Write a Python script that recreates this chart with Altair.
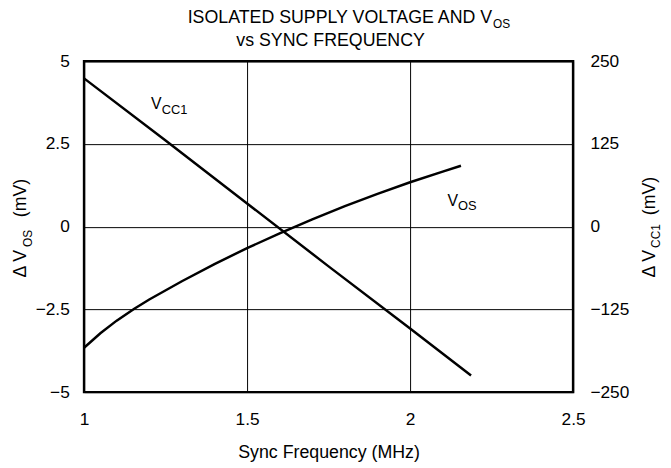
import altair as alt
import pandas as pd

# ---- data ----
freq_vcc = [1.0, 1.25, 1.5, 1.75, 2.0, 2.187]
vcc1_mv = [224, 130, 35, -60, -154, -225]          # right axis, mV

freq_vos = [1.0, 1.05, 1.1, 1.154, 1.2, 1.3, 1.4, 1.5, 1.6, 1.7, 1.8, 1.9, 2.0, 2.1, 2.156]
vos_mv = [-3.66, -3.22, -2.84, -2.48, -2.2, -1.65, -1.13, -0.65, -0.2, 0.22,
          0.62, 0.99, 1.34, 1.66, 1.84]               # left axis, mV

x_ticks = [1, 1.5, 2, 2.5]
vos_ticks = [-5, -2.5, 0, 2.5, 5]
vcc_ticks = [-250, -125, 0, 125, 250]

# curve labels (data coords on left axis)
lab_main = ["V", "V"]
lab_sub = ["CC1", "OS"]
lab_x = [1.205, 2.115]
lab_y = [3.55, 0.63]
sub_x = [1.238, 2.147]
sub_y = [3.41, 0.51]

FONT = "Liberation Sans"
FMT = ".1~f"

vos_df = pd.DataFrame({"f": freq_vos, "v": vos_mv})
vcc_df = pd.DataFrame({"f": freq_vcc, "v": vcc1_mv})
lab_df = pd.DataFrame({"f": lab_x, "v": lab_y, "t": lab_main})
sub_df = pd.DataFrame({"f": sub_x, "v": sub_y, "t": lab_sub})
one = pd.DataFrame({"a": [0]})

X = alt.X("f:Q", scale=alt.Scale(domain=[1, 2.5], nice=False, zero=False),
          axis=alt.Axis(values=x_ticks, format=FMT, grid=True, gridColor="black",
                        gridWidth=1, ticks=False, domain=False, labelFont=FONT,
                        labelFontSize=17.5, labelColor="black", labelPadding=19,
                        labelFlush=False, labelOverlap=False, title=None))

Y_left = alt.Y("v:Q", scale=alt.Scale(domain=[-5, 5], nice=False, zero=False),
               axis=alt.Axis(orient="left", values=vos_ticks, format=FMT, grid=True,
                             gridColor="black", gridWidth=1, ticks=False, domain=False,
                             labelFont=FONT, labelFontSize=17.5, labelColor="black",
                             labelPadding=15, labelFlush=False, labelOverlap=False,
                             title=None))

Y_right = alt.Y("v:Q", scale=alt.Scale(domain=[-250, 250], nice=False, zero=False),
                axis=alt.Axis(orient="right", values=vcc_ticks, format=FMT, grid=False,
                              ticks=False, domain=False, labelFont=FONT,
                              labelFontSize=17.5, labelColor="black", labelPadding=17,
                              labelFlush=False, labelOverlap=False, title=None))


def txt(text, x, y, size, angle=0, align="left"):
    return alt.Chart(one).mark_text(
        text=text, font=FONT, fontSize=size, angle=angle, align=align,
        baseline="alphabetic", color="black"
    ).encode(x=alt.value(x), y=alt.value(y))


vos_line = alt.Chart(vos_df).mark_line(color="black", strokeWidth=2.5).encode(
    x=X, y=Y_left, order="f:Q")

lab_main_layer = alt.Chart(lab_df).mark_text(
    font=FONT, fontSize=16, align="left", baseline="alphabetic", color="black"
).encode(x=X, y=Y_left, text="t:N")

lab_sub_layer = alt.Chart(sub_df).mark_text(
    font=FONT, fontSize=13, align="left", baseline="alphabetic", color="black"
).encode(x=X, y=Y_left, text="t:N")

inner = alt.layer(
    vos_line, lab_main_layer, lab_sub_layer,
    txt("ISOLATED SUPPLY VOLTAGE AND V", 413, -38.5, 18, align="right"),
    txt("OS", 414, -34, 12),
    txt("vs SYNC FREQUENCY", 249.5, -15.5, 18, align="center"),
    txt("Sync Frequency (MHz)", 248, 402, 18, align="center"),
    txt("Δ V", -59, 219, 18, angle=270),
    txt("OS", -53, 188, 12, angle=270),
    txt("(mV)", -59, 158, 18, angle=270),
    txt("Δ V", 578, 219, 18, angle=270),
    txt("CC1", 582.5, 189, 12, angle=270),
    txt("(mV)", 578, 156, 18, angle=270),
)

vcc_line = alt.Chart(vcc_df).mark_line(color="black", strokeWidth=2.5).encode(
    x=X, y=Y_right, order="f:Q")

chart = alt.layer(inner, vcc_line).resolve_scale(y="independent").properties(
    width=495, height=335,
    autosize=alt.AutoSizeParams(type="none"),
    padding={"left": 77, "top": 51, "right": 91, "bottom": 74},
).configure_view(stroke="black", strokeWidth=2.5)

chart.save("out.html", embed_options={"renderer": "svg", "actions": False})
